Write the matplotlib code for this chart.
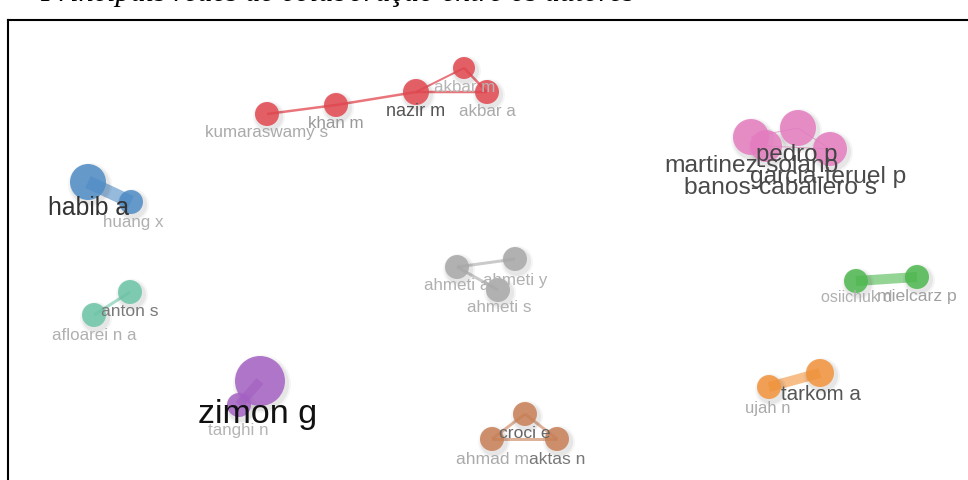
import matplotlib.pyplot as plt
from matplotlib.patches import Circle
from matplotlib.lines import Line2D

# co-authorship network (VOSviewer style), coordinates in map units
authors = ["kumaraswamy s", "khan m", "nazir m", "akbar m", "akbar a",
           "martinez-solano", "banos-caballero s", "pedro p", "garcia-teruel p",
           "habib a", "huang x",
           "anton s", "afloarei n a",
           "ahmeti a", "ahmeti y", "ahmeti s",
           "osiichuk d", "mielcarz p",
           "zimon g", "tanghi n",
           "croci e", "ahmad m", "aktas n",
           "tarkom a", "ujah n"]
cluster = [0, 0, 0, 0, 0,
           1, 1, 1, 1,
           2, 2,
           3, 3,
           4, 4, 4,
           5, 5,
           6, 6,
           7, 7, 7,
           8, 8]
node_x = [267, 336, 416, 464, 487,
          751, 766, 798, 830,
          88, 131,
          130, 94,
          457, 515, 498,
          856, 917,
          260, 239,
          525, 492, 557,
          820, 769]
node_y = [114, 105, 92, 68, 92,
          137, 146, 128, 149,
          182, 202,
          292, 315,
          267, 259, 290,
          281, 277,
          381, 405,
          414, 439, 439,
          373, 387]
node_r = [12, 12, 13, 11, 12,
          18, 16, 18, 17,
          18, 12,
          12, 12,
          12, 12, 12,
          12, 12,
          25, 12,
          12, 12, 12,
          14, 12]

links = [(0, 1), (1, 2), (2, 4), (3, 4), (2, 3),
         (5, 7), (7, 8), (6, 8),
         (9, 10),
         (11, 12),
         (13, 14), (13, 15),
         (16, 17),
         (18, 19),
         (20, 21), (20, 22), (21, 22),
         (23, 24)]
link_w = [2.5, 2.5, 2.5, 2.5, 2,
          1, 1, 1,
          13,
          3,
          3, 3,
          10,
          9,
          3, 3, 3,
          10]

# label layout (pixels) and weight
label_x = [267, 336, 416, 465, 487,
           751, 781, 797, 828,
           89, 133,
           130, 94,
           457, 515, 499,
           857, 917,
           258, 238,
           525, 492, 557,
           821, 768]
label_y = [133, 124, 111, 88, 111,
           166, 188, 155, 177,
           208, 222,
           312, 335,
           286, 280, 307,
           298, 297,
           414, 430,
           434, 459, 459,
           394, 408]
label_px = [17, 17, 18, 17, 17,
            24.5, 24.5, 24, 24.5,
            24.7, 17,
            17.5, 17,
            17, 17, 17,
            16, 17.5,
            34, 17,
            17.5, 17.5, 17.5,
            20.5, 16.5]
label_col = ["#aaaaaa", "#999999", "#555555", "#b5b5b5", "#aaaaaa",
             "#4a4a4a", "#4a4a4a", "#444444", "#4a4a4a",
             "#333333", "#b0b0b0",
             "#7a7a7a", "#b0b0b0",
             "#b0b0b0", "#b0b0b0", "#b0b0b0",
             "#b0b0b0", "#a0a0a0",
             "#111111", "#b5b5b5",
             "#666666", "#aaaaaa", "#777777",
             "#555555", "#aaaaaa"]

palette = ["#e2474f", "#e57cc0", "#4f8cc6", "#6cc5a8", "#a8a8a8",
           "#4db84e", "#a561c4", "#c97f55", "#f2933a"]

caption = "Principais redes de colaboração entre os autores"

W, H = 968, 480
fig = plt.figure(figsize=(W / 100, H / 100), dpi=100)
ax = fig.add_axes([0, 0, 1, 1])
ax.set_xlim(0, W)
ax.set_ylim(H, 0)
ax.axis("off")

# links
for (a, b), w in zip(links, link_w):
    al = 0.75 if cluster[a] == 0 else 0.6
    ax.plot([node_x[a], node_x[b]], [node_y[a], node_y[b]],
            color=palette[cluster[a]], lw=w * 0.72, alpha=al,
            solid_capstyle="butt", zorder=1)

# nodes with a soft shadow
for x, y, r, c in zip(node_x, node_y, node_r, cluster):
    for k, al in ((4, 0.04), (2, 0.06)):
        ax.add_patch(Circle((x + 2, y + 3), r + k, color="#000000",
                            alpha=al, lw=0, zorder=2))
    ax.add_patch(Circle((x, y), r, color=palette[c], alpha=0.85,
                        lw=0, zorder=3))

# labels
for name, lx, ly, s, col in zip(authors, label_x, label_y, label_px, label_col):
    ax.text(lx, ly, name, ha="center", va="center", fontsize=s * 0.72,
            color=col, family="Liberation Sans", zorder=4)

# frame and clipped caption from the source page
fig.add_artist(Line2D([8 / W, 1], [1 - 20 / H, 1 - 20 / H], color="black",
                      lw=1.5, transform=fig.transFigure))
fig.add_artist(Line2D([8 / W, 8 / W], [0, 1 - 20 / H], color="black",
                      lw=1.5, transform=fig.transFigure))
fig.text(40 / W, 1 - 1.2 / H, caption, ha="left", va="baseline",
         fontsize=21.8, style="italic", family="Liberation Serif")

fig.savefig("out.png", dpi=100)
